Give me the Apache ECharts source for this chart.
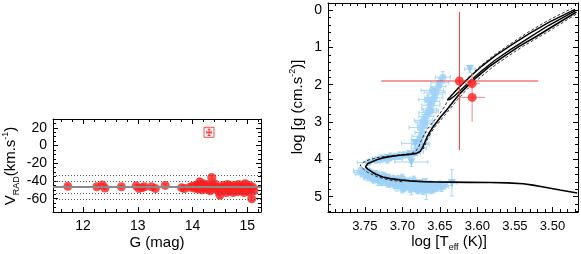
<!DOCTYPE html>
<html><head><meta charset="utf-8">
<script src="https://cdn.jsdelivr.net/npm/echarts@6/dist/echarts.min.js"></script>
<style>html,body{margin:0;padding:0;background:#fff}#c{width:581px;height:254px}</style>
</head><body><div id="c"></div>
<script>
// ---------- Left panel: radial velocity vs G ----------
const gTicks = [12, 13, 14, 15];
const vTicks = [-60, -40, -20, 0, 20];
const rvMean = -47;
const rvBands = [-33, -40, -54, -61];
const rvG = [11.72,12.25,12.35,12.40,12.70,12.97,13.02,13.08,13.12,13.25,13.32,13.50,13.80,13.85,
  13.95,14.00,14.03,14.06,14.08,14.10,14.12,14.13,14.15,14.17,14.19,14.20,14.22,14.24,14.26,14.28,14.30,14.32,14.35,14.37,
  14.40,14.42,14.45,14.48,14.50,14.52,14.55,14.57,14.60,14.62,14.64,14.66,14.68,14.70,14.72,14.74,14.76,14.78,14.80,14.82,
  14.84,14.86,14.88,14.90,14.92,14.94,14.96,14.98,15.00,15.02,15.04,15.06,15.08,15.10,15.12];
const rvV = [-46,-46.5,-44.5,-48,-46.5,-45.5,-48.5,-47.5,-46.5,-46.5,-48.5,-45,-47.5,-48.5,
  -47,-46,-48,-45,-47,-49,-44,-41,-46,-50,-43,-47,-45,-49,-46,-44,-48,-51,-36,-46,
  -43,-49,-47,-52,-56,-48,-45,-50,-47,-53,-44,-49,-51,-46,-48,-53,-45,-50,-47,-52,
  -44,-49,-51,-46,-48,-53,-43,-50,-47,-52,-45,-49,-60,-47,-51];
const rvErr = [1.5,1.5,1.5,1.5,1.5,1.5,1.5,1.5,1.5,1.5,1.5,1.5,1.5,1.5,
  2,2,2,2,2,2,3,4,2,2,3,2,2,2,2,2,2,2,2,2,
  2,2,2,3,3,2,2,2,2,2,2,2,2,2,2,2,2,2,2,2,
  2,2,2,2,2,2,3,2,2,2,2,2,2,2,2];
const rvRefG = [14.30], rvRefV = [15], rvRefGErr = [0.04], rvRefVErr = [3.5];

// ---------- Right panel: Kiel diagram ----------
const tTicks = [3.50, 3.55, 3.60, 3.65, 3.70, 3.75];
const lgTicks = [0, 1, 2, 3, 4, 5];
const blueT = [3.755,3.752,3.748,3.745,3.742,3.738,3.735,3.732,3.728,3.725,3.722,3.718,3.715,3.712,3.708,3.705,3.702,3.699,3.696,3.693,
  3.690,3.687,3.684,3.681,3.678,3.675,3.672,3.669,3.666,3.663,3.660,3.657,3.654,3.650,3.720,3.710,3.700,3.690,3.680,3.668,
  3.730,3.740,3.700,3.685,3.670,
  3.750,3.746,3.742,3.738,3.733,3.727,3.723,3.717,3.713,3.707,3.703,3.697,3.694,3.688,3.684,3.678,3.676,3.672,3.666,3.662,
  3.658,3.655,3.648,3.645,3.700,
  3.735,3.728,3.722,3.716,3.710,3.704,3.698,3.692,3.686,3.682,3.745,3.720,
  3.678,3.676,3.678,3.675,3.673,3.676,3.670,3.672,3.668,3.666,3.664,3.662,3.660,3.658,3.656,3.660,3.652,3.650,3.646,
  3.666,3.662,3.670,3.657];
const blueG = [4.30,4.35,4.38,4.33,4.42,4.45,4.40,4.48,4.52,4.46,4.55,4.50,4.58,4.53,4.62,4.55,4.65,4.58,4.68,4.61,
  4.70,4.63,4.72,4.66,4.74,4.68,4.76,4.70,4.73,4.68,4.75,4.70,4.72,4.68,4.62,4.68,4.72,4.76,4.80,4.80,
  4.58,4.50,4.50,4.55,4.62,
  4.40,4.45,4.36,4.52,4.55,4.60,4.50,4.65,4.60,4.70,4.60,4.75,4.66,4.80,4.68,4.82,4.72,4.84,4.78,4.82,
  4.78,4.76,4.74,4.70,4.78,
  4.02,3.98,3.95,3.93,3.92,3.90,3.88,3.86,3.84,3.80,4.08,4.00,
  3.70,3.60,3.48,3.38,3.28,3.15,3.05,2.95,2.85,2.75,2.65,2.55,2.45,2.35,2.25,2.15,2.05,1.95,1.80,
  2.40,2.70,3.00,2.20];
const blueTErr = [0.010,0.012,0.010,0.015,0.012,0.010,0.012,0.015,0.010,0.012,0.010,0.015,0.012,0.010,0.012,0.010,0.015,0.012,0.010,0.012,
  0.015,0.010,0.012,0.010,0.015,0.012,0.010,0.012,0.015,0.010,0.012,0.010,0.012,0.010,0.012,0.010,0.012,0.015,0.010,0.012,
  0.010,0.012,0.010,0.012,0.010,
  0.012,0.010,0.015,0.012,0.010,0.012,0.015,0.010,0.012,0.010,0.015,0.012,0.010,0.012,0.015,0.010,0.012,0.010,0.012,0.015,
  0.010,0.012,0.010,0.012,0.010,
  0.010,0.012,0.010,0.012,0.010,0.012,0.010,0.012,0.010,0.010,0.015,0.020,
  0.010,0.012,0.010,0.012,0.010,0.015,0.010,0.012,0.010,0.012,0.010,0.012,0.010,0.012,0.010,0.015,0.010,0.012,0.010,
  0.012,0.010,0.012,0.014];
const blueGErr = [0.08,0.10,0.12,0.10,0.10,0.15,0.10,0.12,0.10,0.12,0.15,0.10,0.12,0.10,0.15,0.12,0.10,0.12,0.15,0.10,
  0.12,0.10,0.15,0.12,0.10,0.12,0.15,0.10,0.12,0.10,0.12,0.10,0.12,0.10,0.12,0.10,0.15,0.12,0.12,0.28,
  0.12,0.10,0.10,0.10,0.10,
  0.10,0.12,0.10,0.12,0.15,0.10,0.12,0.10,0.12,0.15,0.10,0.12,0.10,0.15,0.12,0.10,0.12,0.10,0.12,0.10,
  0.12,0.10,0.12,0.10,0.12,
  0.08,0.10,0.08,0.10,0.08,0.10,0.08,0.10,0.08,0.10,0.08,0.10,
  0.10,0.12,0.10,0.15,0.12,0.18,0.12,0.15,0.12,0.10,0.12,0.15,0.12,0.10,0.12,0.10,0.15,0.12,0.15,
  0.12,0.15,0.12,0.10];
const triT = [3.634, 3.688, 3.683, 3.610];
const triG = [4.63, 4.07, 3.57, 1.58];
const triTErr = [0.007, 0.022, 0.018, 0.007];
const triGErr = [0.35, 0.12, 0.10, 0.10];
const redT = [3.624, 3.607, 3.607];
const redG = [1.90, 1.97, 2.34];
const redTLo = [3.519, 3.597, 3.590], redTHi = [3.728, 3.617, 3.624];
const redGLo = [0.05, 1.82, 1.69], redGHi = [3.75, 2.12, 2.99];
const isoMain = [[3.467,4.90],[3.490,4.82],[3.512,4.74],[3.526,4.69],[3.539,4.655],[3.560,4.63],[3.583,4.62],[3.610,4.615],[3.637,4.61],
  [3.655,4.605],[3.672,4.595],[3.690,4.575],[3.703,4.55],[3.716,4.515],[3.726,4.47],[3.735,4.40],[3.741,4.33],[3.746,4.26],[3.749,4.20],
  [3.749,4.16],[3.746,4.11],[3.741,4.07],[3.734,4.01],[3.726,3.96],[3.715,3.92],[3.703,3.89],[3.690,3.865],[3.681,3.84],[3.676,3.78],
  [3.673,3.68],[3.670,3.54],[3.667,3.40],[3.663,3.25],[3.658,3.10],[3.654,3.00],[3.648,2.84],[3.641,2.68],[3.632,2.45],[3.623,2.23],
  [3.612,2.01],[3.601,1.80],[3.585,1.53],[3.566,1.26],[3.545,0.98],[3.521,0.70],[3.495,0.38],[3.468,0.05]];
const isoAgb1 = [[3.640,2.40],[3.636,2.32],[3.630,2.19],[3.621,2.00],[3.609,1.77],[3.594,1.50],[3.576,1.22],[3.555,0.94],[3.531,0.63],[3.505,0.33],[3.470,-0.02]];
const isoAgb2 = [[3.640,2.40],[3.637,2.40],[3.631,2.31],[3.622,2.14],[3.610,1.91],[3.595,1.64],[3.577,1.35],[3.556,1.06],[3.532,0.75],[3.506,0.42],[3.470,0.02]];
const isoDashA = [[3.700,4.60],[3.718,4.55],[3.733,4.47],[3.746,4.35],[3.754,4.22],[3.756,4.15],[3.752,4.08],[3.744,4.01],[3.733,3.95],[3.718,3.91],[3.700,3.87],[3.688,3.84],[3.682,3.78],[3.678,3.66],[3.675,3.50],[3.671,3.34],[3.666,3.17],[3.660,3.02],[3.651,2.80],[3.643,2.56],[3.638,2.36],[3.632,2.22],[3.623,2.02],[3.611,1.78],[3.596,1.50],[3.578,1.21],[3.557,0.92],[3.533,0.60],[3.507,0.29],[3.474,-0.05]];
const isoDashB = [[3.678,3.82],[3.672,3.72],[3.669,3.58],[3.666,3.44],[3.662,3.29],[3.657,3.14],[3.651,3.00],[3.644,2.83],[3.637,2.66],[3.628,2.44],[3.619,2.23],[3.608,2.01],[3.596,1.80],[3.580,1.53],[3.561,1.26],[3.540,0.98],[3.516,0.70],[3.490,0.38],[3.466,0.08]];

// ---------- helpers ----------
const FONT = '"Liberation Sans", Arial, Helvetica, sans-serif';
function minorVals(a, b, step, majors) {
  const out = [];
  for (let v = a; v <= b + 1e-9; v += step) {
    const r = Math.round(v * 1000) / 1000;
    if (!majors.some(m => Math.abs(m - r) < 1e-6)) out.push(r);
  }
  return out;
}
function axisSet(gridIndex, posA, posB, min, max, inverse, majors, minors, label) {
  const base = {type: 'value', gridIndex, min, max, inverse, splitLine: {show: false}, silent: true};
  const line = {show: true, onZero: false, lineStyle: {color: '#000', width: 1}};
  const noLine = {show: false, onZero: false};
  const tick = (vals, len) => ({show: true, inside: true, length: len, customValues: vals, lineStyle: {color: '#000', width: 1}});
  return [
    Object.assign({}, base, {position: posA, axisLine: line, axisTick: tick(majors, 5), axisLabel: label}),
    Object.assign({}, base, {position: posA, axisLine: noLine, axisTick: tick(minors, 3), axisLabel: {show: false}}),
    Object.assign({}, base, {position: posB, axisLine: line, axisTick: tick(majors, 5), axisLabel: {show: false}}),
    Object.assign({}, base, {position: posB, axisLine: noLine, axisTick: tick(minors, 3), axisLabel: {show: false}})
  ];
}
function lbl(vals, size, margin, fmt) {
  return {show: true, customValues: vals, color: '#000', fontSize: size, fontFamily: FONT, margin, formatter: fmt};
}
function errRender(color, cap, width) {
  return function (params, api) {
    const x = api.value(0), y = api.value(1);
    const xl = api.value(2), xh = api.value(3), yl = api.value(4), yh = api.value(5);
    const c = api.coord([x, y]);
    const st = {stroke: color, lineWidth: width || 1};
    const kids = [];
    if (xh > xl) {
      const a = api.coord([xl, y]), b = api.coord([xh, y]);
      kids.push({type: 'line', shape: {x1: a[0], y1: c[1], x2: b[0], y2: c[1]}, style: st});
      if (cap) {
        kids.push({type: 'line', shape: {x1: a[0], y1: c[1] - cap, x2: a[0], y2: c[1] + cap}, style: st});
        kids.push({type: 'line', shape: {x1: b[0], y1: c[1] - cap, x2: b[0], y2: c[1] + cap}, style: st});
      }
    }
    if (yh > yl) {
      const a = api.coord([x, yl]), b = api.coord([x, yh]);
      kids.push({type: 'line', shape: {x1: c[0], y1: a[1], x2: c[0], y2: b[1]}, style: st});
      if (cap) {
        kids.push({type: 'line', shape: {x1: c[0] - cap, y1: a[1], x2: c[0] + cap, y2: a[1]}, style: st});
        kids.push({type: 'line', shape: {x1: c[0] - cap, y1: b[1], x2: c[0] + cap, y2: b[1]}, style: st});
      }
    }
    return {type: 'group', children: kids};
  };
}

const rvErrData = rvG.map((g, i) => [g, rvV[i], g, g, rvV[i] - rvErr[i], rvV[i] + rvErr[i]]);
const rvPts = rvG.map((g, i) => [g, rvV[i]]);
const refErr = rvRefG.map((g, i) => [g, rvRefV[i], g - rvRefGErr[i], g + rvRefGErr[i], rvRefV[i] - rvRefVErr[i], rvRefV[i] + rvRefVErr[i]]);
const refPts = rvRefG.map((g, i) => [g, rvRefV[i]]);
const blueErr = blueT.map((t, i) => [t, blueG[i], t - blueTErr[i], t + blueTErr[i], blueG[i] - blueGErr[i], blueG[i] + blueGErr[i]]);
const bluePts = blueT.map((t, i) => [t, blueG[i]]);
const triErr = triT.map((t, i) => [t, triG[i], t - triTErr[i], t + triTErr[i], triG[i] - triGErr[i], triG[i] + triGErr[i]]);
const triPts = triT.map((t, i) => [t, triG[i]]);
const redErrBig = [[redT[0], redG[0], redTLo[0], redTHi[0], redGLo[0], redGHi[0]]];
const redErrSmall = redT.slice(1).map((t, j) => [t, redG[j + 1], redTLo[j + 1], redTHi[j + 1], redGLo[j + 1], redGHi[j + 1]]);
const redPts = redT.map((t, i) => [t, redG[i]]);

const RED = '#ff1f1f';
const BLUE = '#a4d6f7';

const xAxes = [].concat(
  axisSet(0, 'bottom', 'top', 11.45, 15.25, false, gTicks, minorVals(11.6, 15.2, 0.2, gTicks), lbl(gTicks, 14, 7, v => String(v))),
  axisSet(1, 'bottom', 'top', 3.466, 3.799, true, tTicks, minorVals(3.47, 3.79, 0.01, tTicks), lbl(tTicks, 13, 8, v => v.toFixed(2)))
);
const yAxes = [].concat(
  axisSet(0, 'left', 'right', -75, 30, false, vTicks, minorVals(-75, 30, 5, vTicks), lbl(vTicks, 14, 6, v => String(v))),
  axisSet(1, 'left', 'right', -0.19, 5.41, true, lgTicks, minorVals(0, 5.4, 0.2, lgTicks), lbl(lgTicks, 14, 6, v => String(v)))
);

const lineS = (data, w, type, z) => ({type: 'line', xAxisIndex: 4, yAxisIndex: 4, data, showSymbol: false, symbol: 'none', silent: true,
  lineStyle: {color: '#000', width: w, type: type}, z});

const option = {
  animation: false,
  backgroundColor: '#fff',
  grid: [
    {left: 53, top: 119, width: 208, height: 93},
    {left: 328, top: 3, width: 250, height: 209}
  ],
  xAxis: xAxes,
  yAxis: yAxes,
  series: [
    {type: 'custom', xAxisIndex: 0, yAxisIndex: 0, data: rvErrData, encode: {x: 0, y: 1}, renderItem: errRender('#ff4a4a', 2, 1), z: 3, silent: true},
    {type: 'scatter', xAxisIndex: 0, yAxisIndex: 0, data: rvPts, symbolSize: 9, itemStyle: {color: RED}, z: 4, silent: true,
      markLine: {silent: true, symbol: 'none', label: {show: false}, animation: false,
        data: [{yAxis: rvMean, lineStyle: {type: 'solid', color: '#8a8a8a', width: 2}}].concat(
          rvBands.map(b => ({yAxis: b, lineStyle: {type: [1, 2], color: '#555', width: 1}})))}},
    {type: 'custom', xAxisIndex: 0, yAxisIndex: 0, data: refErr, encode: {x: 0, y: 1}, renderItem: errRender(RED, 1.5, 1), z: 5, silent: true},
    {type: 'scatter', xAxisIndex: 0, yAxisIndex: 0, data: refPts, symbol: 'rect', symbolSize: 10, itemStyle: {color: 'rgba(0,0,0,0)', borderColor: RED, borderWidth: 1}, z: 5, silent: true},

    {type: 'custom', xAxisIndex: 4, yAxisIndex: 4, data: blueErr, encode: {x: 0, y: 1}, renderItem: errRender(BLUE, 2, 1), z: 2, silent: true},
    {type: 'custom', xAxisIndex: 4, yAxisIndex: 4, data: triErr, encode: {x: 0, y: 1}, renderItem: errRender(BLUE, 2, 1), z: 2, silent: true},
    {type: 'scatter', xAxisIndex: 4, yAxisIndex: 4, data: bluePts, symbolSize: 7, itemStyle: {color: '#9dd2f6'}, z: 3, silent: true},
    {type: 'scatter', xAxisIndex: 4, yAxisIndex: 4, data: triPts, symbol: 'triangle', symbolRotate: 180, symbolSize: 8, itemStyle: {color: '#86c6f0'}, z: 3, silent: true},
    lineS(isoDashA, 0.8, [3, 2], 6),
    lineS(isoDashB, 0.8, [3, 2], 6),
    lineS(isoMain, 1.6, 'solid', 7),
    lineS(isoAgb1, 1.4, 'solid', 7),
    lineS(isoAgb2, 1.4, 'solid', 7),
    {type: 'custom', xAxisIndex: 4, yAxisIndex: 4, data: redErrBig, encode: {x: 0, y: 1}, renderItem: errRender('#e53a3a', 0, 1), z: 8, silent: true},
    {type: 'custom', xAxisIndex: 4, yAxisIndex: 4, data: redErrSmall, encode: {x: 0, y: 1}, renderItem: errRender('#f39a9a', 0, 1.2), z: 8, silent: true},
    {type: 'scatter', xAxisIndex: 4, yAxisIndex: 4, data: redPts, symbolSize: 9, itemStyle: {color: RED}, z: 9, silent: true}
  ],
  graphic: [
    {type: 'text', x: 157, y: 243, silent: true, style: {text: 'G (mag)', font: '15px ' + FONT, fill: '#000', align: 'center', verticalAlign: 'middle'}},
    {type: 'text', x: 11, y: 166, rotation: Math.PI / 2, silent: true, style: {
      text: '{n|V}{s|RAD}{n|(km.s}{p|-1}{n|)}', align: 'center', verticalAlign: 'middle', fill: '#000',
      rich: {n: {fontSize: 15, fontFamily: FONT, lineHeight: 20}, s: {fontSize: 9, fontFamily: FONT, lineHeight: 12, verticalAlign: 'bottom'},
        p: {fontSize: 9, fontFamily: FONT, lineHeight: 12, verticalAlign: 'top'}}}},
    {type: 'text', x: 449, y: 242, silent: true, style: {
      text: '{n|log [T}{s|eff}{n| (K)]}', align: 'center', verticalAlign: 'middle', fill: '#000',
      rich: {n: {fontSize: 15, fontFamily: FONT, lineHeight: 20}, s: {fontSize: 9, fontFamily: FONT, lineHeight: 12, verticalAlign: 'bottom'}}}},
    {type: 'text', x: 298, y: 107, rotation: Math.PI / 2, silent: true, style: {
      text: '{n|log [g (cm.s}{p|-2}{n|)]}', align: 'center', verticalAlign: 'middle', fill: '#000',
      rich: {n: {fontSize: 15, fontFamily: FONT, lineHeight: 20}, p: {fontSize: 9, fontFamily: FONT, lineHeight: 12, verticalAlign: 'top'}}}}
  ]
};
const chart = echarts.init(document.getElementById('c'), null, {renderer: 'canvas'});
chart.setOption(option);
</script></body></html>
